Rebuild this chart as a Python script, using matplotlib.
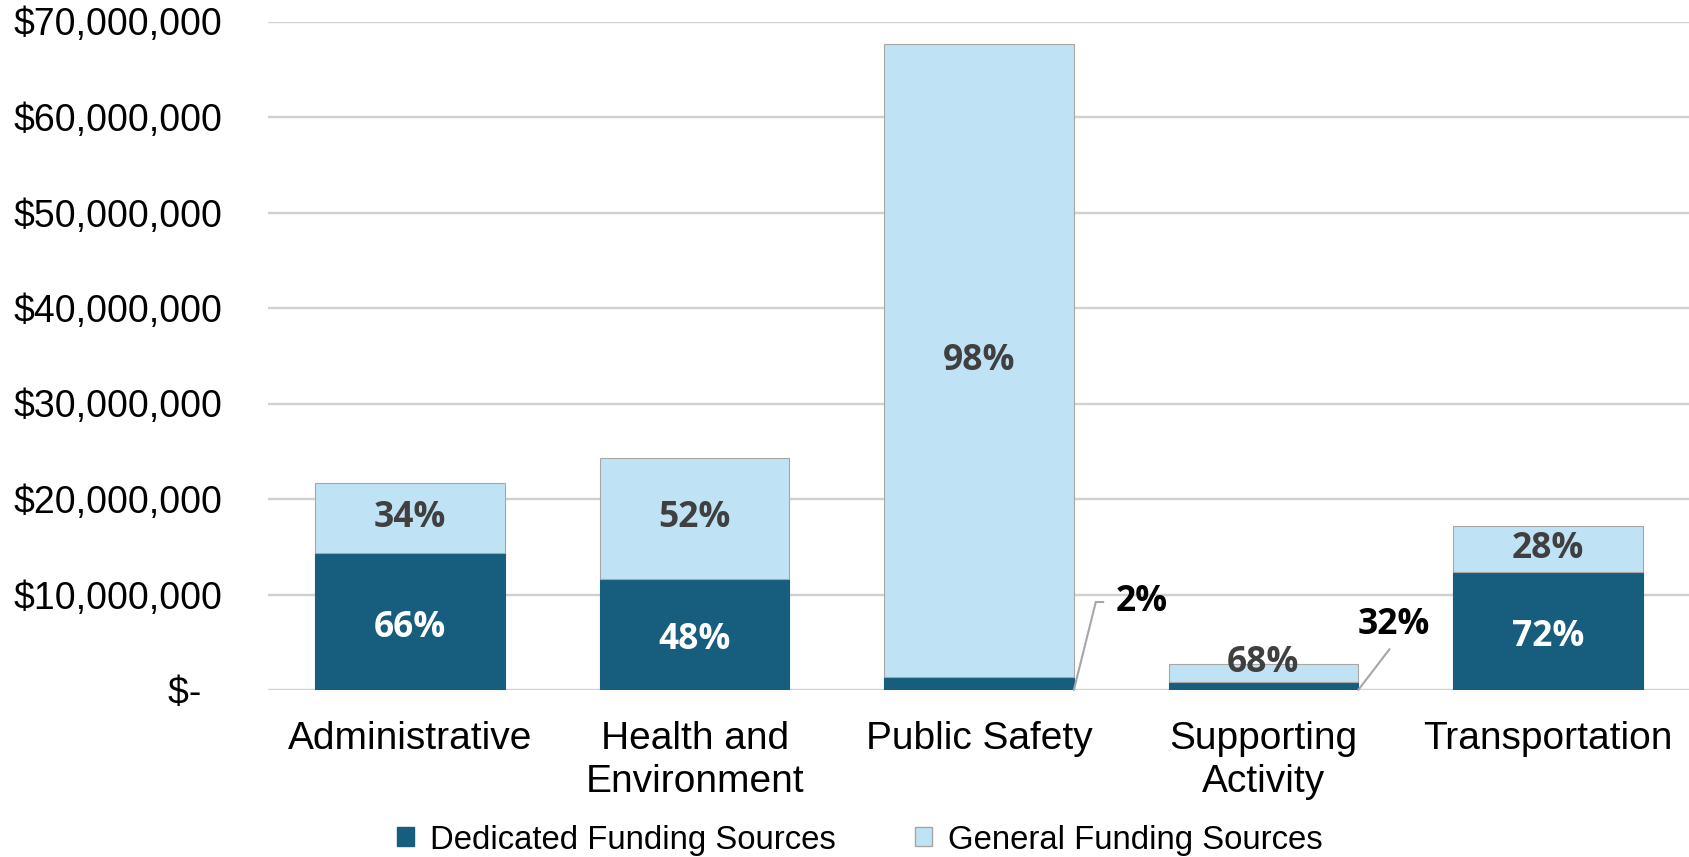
import numpy as np
import matplotlib
matplotlib.use("Agg")
import matplotlib.pyplot as plt
from matplotlib.patches import Patch
from matplotlib.ticker import FuncFormatter

# spending by category, with the share coming from dedicated sources
categories = ["Administrative", "Health and\nEnvironment", "Public Safety",
              "Supporting\nActivity", "Transportation"]
totals = [21.7e6, 24.3e6, 67.6e6, 2.75e6, 17.2e6]
dedicated_pct = [66, 48, 2, 32, 72]
general_pct = [34, 52, 98, 68, 28]

dark = "#175d7e"
light = "#bfe3f4"
edge = "#a6a6a6"

tot = np.array(totals)
dedicated = tot * np.array(dedicated_pct) / 100
general = tot * np.array(general_pct) / 100

fig = plt.figure(figsize=(16.9, 8.57), dpi=100)
ax = fig.add_axes([268 / 1690, 167 / 857, 1 - 268 / 1690, 668.5 / 857])

x = np.arange(len(categories))
w = 0.667
ax.bar(x, dedicated, w, color=dark, edgecolor=dark, linewidth=0.8, zorder=3)
ax.bar(x, general, w, bottom=dedicated, color=light, edgecolor=edge,
       linewidth=0.8, zorder=3)

ax.set_xlim(-0.5, len(categories) - 0.5)
ax.set_ylim(0, 70e6)
ax.set_yticks(np.arange(0, 70e6 + 1, 10e6))
ax.yaxis.set_major_formatter(FuncFormatter(
    lambda v, p: "$-  " if v == 0 else "${:,.0f}".format(v)))
ax.set_xticks(x)
ax.set_xticklabels(categories, fontsize=28, linespacing=1.25)
ax.tick_params(axis="y", length=0, pad=33, labelsize=27)
ax.tick_params(axis="x", length=0, pad=22)
for lab in ax.get_xticklabels() + ax.get_yticklabels():
    lab.set_fontfamily("Liberation Sans")
ax.grid(axis="y", color="#d0d0d0", linewidth=1.7, zorder=0)
for s in ax.spines.values():
    s.set_visible(False)

pct_font = dict(family="Open Sans", weight="bold", fontsize=25.5)

# labels inside the segments (thin dedicated slices get call-outs below)
gen_shift = [0, 0, 0, 10, 0]
for i in range(len(categories)):
    if dedicated[i] >= 5e6:
        ax.annotate(f"{dedicated_pct[i]}%", (x[i], dedicated[i] / 2),
                    xytext=(0, -6), textcoords="offset pixels",
                    ha="center", va="center", color="white", zorder=5,
                    **pct_font)
    ax.annotate(f"{general_pct[i]}%", (x[i], dedicated[i] + general[i] / 2),
                xytext=(0, gen_shift[i]), textcoords="offset pixels",
                ha="center", va="center", color="#404040", zorder=5,
                **pct_font)

ax.annotate(f"{dedicated_pct[2]}%", (x[2] + w / 2, 0),
            xytext=(42, 88), textcoords="offset pixels",
            ha="left", va="center", color="black", zorder=5,
            arrowprops=dict(arrowstyle="-", color=edge, lw=1.5,
                            relpos=(0, 0.5), shrinkA=7, shrinkB=0,
                            connectionstyle="angle,angleA=180,angleB=76,rad=0"),
            **pct_font)
ax.annotate(f"{dedicated_pct[3]}%", (x[3] + w / 2, 0),
            xytext=(36, 65), textcoords="offset pixels",
            ha="center", va="center", color="black", zorder=5,
            arrowprops=dict(arrowstyle="-", color=edge, lw=1.5,
                            relpos=(0.5, 0), shrinkA=3, shrinkB=0),
            **pct_font)

handles = [Patch(facecolor=dark, edgecolor=dark),
           Patch(facecolor=light, edgecolor=edge)]
fig.legend(handles, ["Dedicated Funding Sources", "General Funding Sources"],
           loc="center", bbox_to_anchor=(0.509, 17 / 857), ncol=2, frameon=False,
           prop=dict(family="Liberation Sans", size=23.7),
           handlelength=0.5, handleheight=0.5, handletextpad=0.5,
           columnspacing=2.4)

fig.savefig("out.png", dpi=100)
